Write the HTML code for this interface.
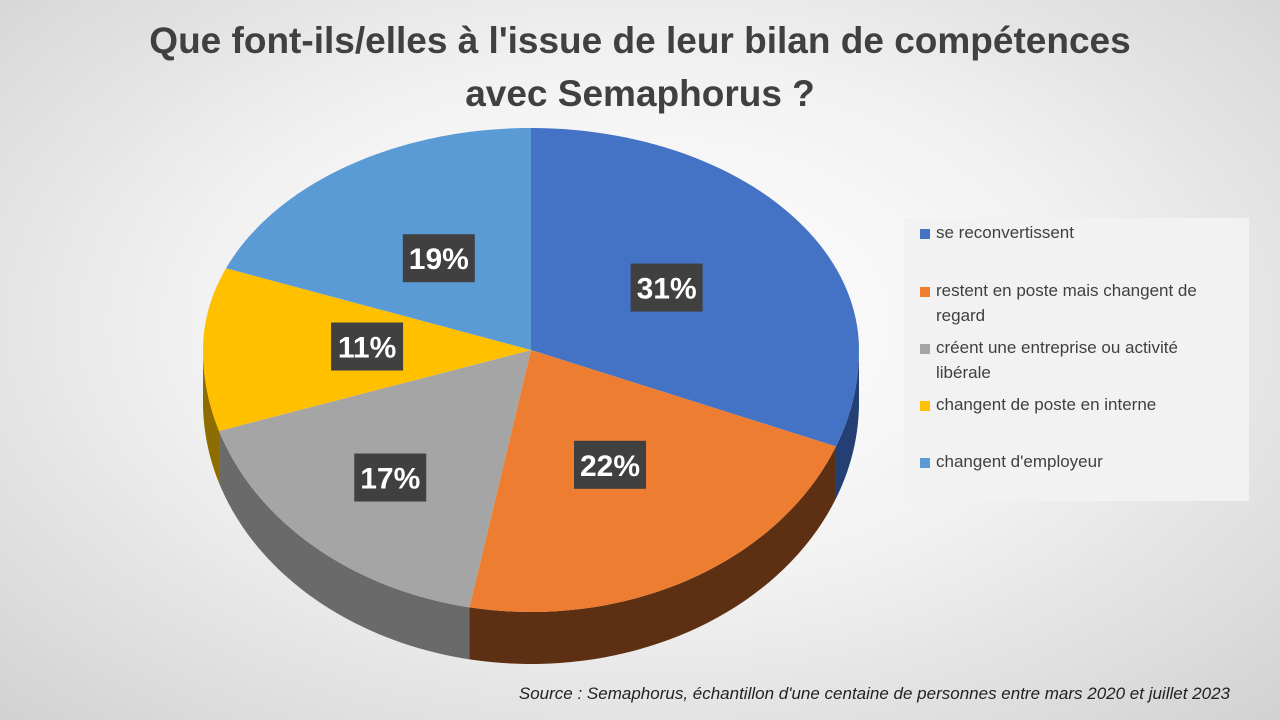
<!DOCTYPE html>
<html><head><meta charset="utf-8"><style>
html,body{margin:0;padding:0}
body{width:1280px;height:720px;overflow:hidden;font-family:"Liberation Sans",sans-serif;background:radial-gradient(ellipse 75% 80% at 50% 45%,#ffffff 0%,#f2f2f2 45%,#cfcfcf 100%);position:relative}
.title{position:absolute;left:0;width:1280px;top:14px;text-align:center;font-weight:bold;font-size:37px;line-height:53px;color:#404040}
.legend{position:absolute;left:904px;top:218px;width:345px;height:283px;background:#f2f2f2}
.le{position:absolute;left:16px;font-size:17px;line-height:25px;color:#404040;width:300px}
.le i{position:absolute;left:0;top:9px;width:10px;height:10px}
.le span{display:block;padding-left:16px}
.src{position:absolute;right:50px;top:684px;font-style:italic;font-size:17px;color:#222}
</style></head><body>
<div class="title">Que font-ils/elles à l'issue de leur bilan de compétences<br>avec Semaphorus ?</div>
<svg id="pie" width="1280" height="720" style="position:absolute;left:0;top:0"></svg>
<div class="legend">
<div class="le" style="top:2px"><i style="background:#4472c4"></i><span>se reconvertissent</span></div>
<div class="le" style="top:60px"><i style="background:#ed7d31"></i><span>restent en poste mais changent de regard</span></div>
<div class="le" style="top:117px"><i style="background:#a5a5a5"></i><span>créent une entreprise ou activité libérale</span></div>
<div class="le" style="top:174px"><i style="background:#ffc000"></i><span>changent de poste en interne</span></div>
<div class="le" style="top:231px"><i style="background:#5b9bd5"></i><span>changent d'employeur</span></div>
</div>
<div class="src">Source : Semaphorus, échantillon d'une centaine de personnes entre mars 2020 et juillet 2023</div>
<script>
const categories=["se reconvertissent","restent en poste mais changent de regard","créent une entreprise ou activité libérale","changent de poste en interne","changent d'employeur"];
const values=[31,22,17,11,19];
const labels=["31%","22%","17%","11%","19%"];
const colors=["#4472c4","#ed7d31","#a5a5a5","#ffc000","#5b9bd5"];
const sideColors=["#243f73","#5e3013","#6a6a6a","#8f6c00","#2f5f8c"];
const svg=document.getElementById('pie');
const NS="http://www.w3.org/2000/svg";
const cx=531,cy=350,rx=328,ryTop=222,ryBot=262,depth=52;
const total=values.reduce((a,b)=>a+b,0);
function pt(a,dy){const c=Math.cos(a);const ry=c>0?ryTop:ryBot;return [cx+rx*Math.sin(a),cy-ry*c+(dy||0)];}
let acc=0;const slices=[];
values.forEach((v,i)=>{const a0=acc/total*2*Math.PI;acc+=v;const a1=acc/total*2*Math.PI;slices.push([a0,a1]);});
slices.forEach(([a0,a1],i)=>{
  const s=Math.max(a0,Math.PI/2), e=Math.min(a1,Math.PI*1.5);
  if(e<=s)return;
  let d="";const n=40;
  for(let k=0;k<=n;k++){const p=pt(s+(e-s)*k/n);d+=(k?"L":"M")+p[0]+","+p[1];}
  for(let k=n;k>=0;k--){const p=pt(s+(e-s)*k/n,depth);d+="L"+p[0]+","+p[1];}
  const el=document.createElementNS(NS,"path");
  
  
  el.setAttribute("d",d+"Z");el.setAttribute("fill",sideColors[i]);svg.appendChild(el);
});
slices.forEach(([a0,a1],i)=>{
  let d="M"+cx+","+cy;const n=60;
  for(let k=0;k<=n;k++){const p=pt(a0+(a1-a0)*k/n);d+="L"+p[0]+","+p[1];}
  const el=document.createElementNS(NS,"path");
  
  
  el.setAttribute("d",d+"Z");el.setAttribute("fill",colors[i]);svg.appendChild(el);
});
slices.forEach(([a0,a1],i)=>{
  const m=(a0+a1)/2;
  const f=0.5+0.3*Math.max(0,-Math.cos(m))*Math.max(0,-Math.sin(m));
  const c=Math.cos(m);const ry=c>0?ryTop:ryBot;
  const x=cx+f*rx*Math.sin(m), y=cy-f*ry*c;
  const g=document.createElementNS(NS,"g");
  
  
  const r=document.createElementNS(NS,"rect");
  r.setAttribute("x",x-36);r.setAttribute("y",y-24);r.setAttribute("width",72);r.setAttribute("height",48);r.setAttribute("fill","#404040");
  const t=document.createElementNS(NS,"text");
  t.setAttribute("x",x);t.setAttribute("y",y+11);t.setAttribute("text-anchor","middle");t.setAttribute("fill","#fff");
  t.setAttribute("font-size","30");t.setAttribute("font-weight","bold");t.setAttribute("font-family","Liberation Sans, sans-serif");
  t.textContent=labels[i];g.appendChild(r);g.appendChild(t);svg.appendChild(g);
});
</script>
</body></html>
